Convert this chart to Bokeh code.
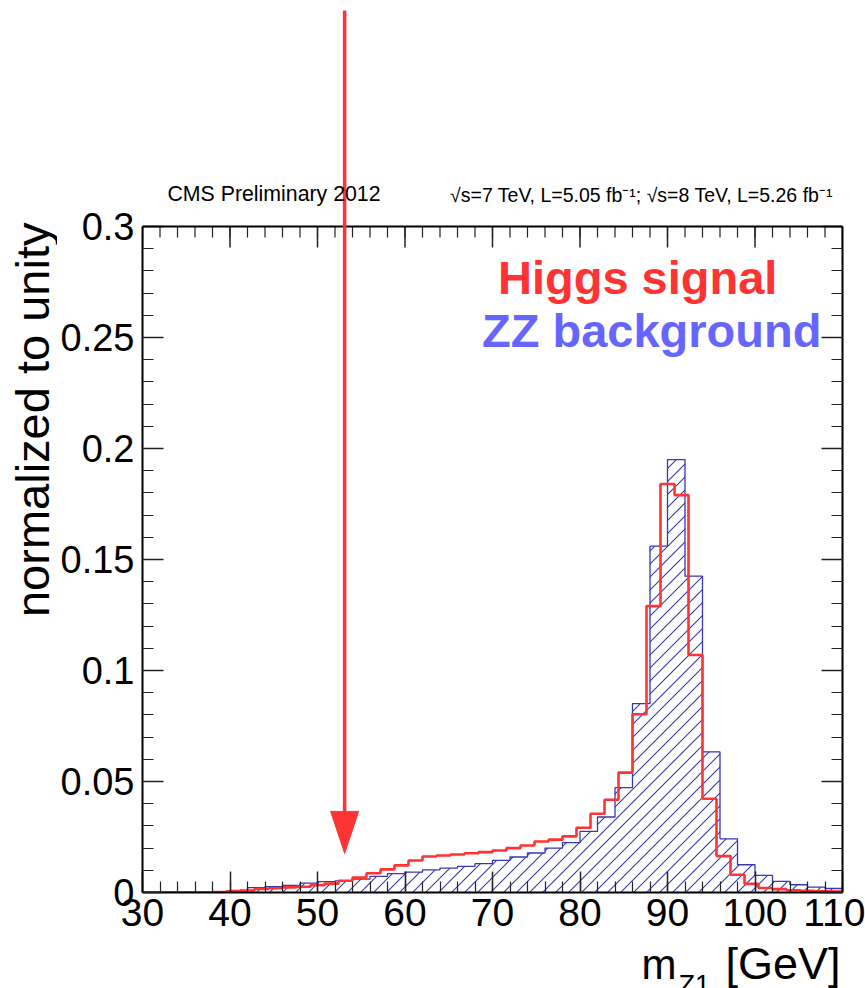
import base64
import math
import numpy as np
from bokeh.plotting import figure
from bokeh.layouts import column, row
from bokeh.models import (Range1d, LinearAxis, FixedTicker, CustomJSTickFormatter,
                          Label, Arrow, Span, ImageURLTexture)
from bokeh.embed import file_html
from bokeh.resources import INLINE

# ---------------- data ----------------
x_min, x_max = 30.0, 110.0
y_max = 0.3

x_ticks = [30, 40, 50, 60, 70, 80, 90, 100, 110]
y_ticks = [0, 0.05, 0.1, 0.15, 0.2, 0.25, 0.3]

# Higgs signal: 50 bins of 1.6 GeV from 30 to 110
signal = [0, 0, 0, 0, 0, 0.0002, 0.0005, 0.0009, 0.0016, 0.0019,
          0.0023, 0.0026, 0.0033, 0.0040, 0.0053, 0.0067, 0.0087, 0.0104, 0.0122, 0.0144,
          0.0162, 0.0167, 0.0171, 0.0177, 0.0182, 0.0189, 0.0200, 0.0212, 0.0230, 0.0238,
          0.0253, 0.0292, 0.0355, 0.0418, 0.0540, 0.0803, 0.1290, 0.1840, 0.1790, 0.1070,
          0.0422, 0.0164, 0.0080, 0.0039, 0.0020, 0.0015, 0.0010, 0.0008, 0.0005, 0.0004]

# ZZ background: 40 bins of 2 GeV from 30 to 110
background = [0, 0, 0, 0, 0.0001, 0.0009, 0.0022, 0.0026, 0.0032, 0.0042,
              0.0049, 0.0052, 0.0060, 0.0073, 0.0085, 0.0092, 0.0102, 0.0110, 0.0118, 0.0130,
              0.0145, 0.0160, 0.0178, 0.0200, 0.0225, 0.0275, 0.0340, 0.0472, 0.0851, 0.1560,
              0.1950, 0.1425, 0.0633, 0.0242, 0.0125, 0.0077, 0.0050, 0.0035, 0.0024, 0.0018]

cut_value = 53.1          # position of the arrow (GeV)
arrow_tip = 0.0176        # where the arrow head ends

signal_label = "Higgs signal"
background_label = "ZZ background"
cms_label = "CMS Preliminary 2012"
lumi_label = "\u221as=7 TeV, L=5.05 fb\u207b\u00b9;  \u221as=8 TeV, L=5.26 fb\u207b\u00b9"
y_title = "normalized to unity"

# ---------------- layout (page pixels) ----------------
W, H = 865, 988
FL, FR, FT, FB = 141, 842, 226, 892   # visible frame edges
LEFT_W = 57                            # width of the strip holding the y title
BOTTOM_Y = 944                         # top of the strip holding the x title
BASE_SHIFT = 0.32                      # bokeh draws "alphabetic" text this many em lower

RED = "#ff3333"
BLUE_LINE = "#3838b0"
BLUE_TEXT = "#6666ff"
FONT = "Liberation Sans"

y_top = y_max * FB / (FB - FT)        # data value at the top of the canvas

def px2x(px):
    return x_min + (px - FL) * (x_max - x_min) / (FR - FL)

def py2y(py):
    return (FB - py) * y_max / (FB - FT)

PX_Y = y_max / (FB - FT)              # data units per pixel (vertical)
PX_X = (x_max - x_min) / (FR - FL)


def step_outline(vals):
    vals = np.asarray(vals, dtype=float)
    edges = np.linspace(x_min, x_max, len(vals) + 1)
    xs = np.repeat(edges, 2)
    ys = np.concatenate([[0.0], np.repeat(vals, 2), [0.0]])
    return xs, ys


def bare_figure(w, h, xr, yr):
    f = figure(width=w, height=h, x_range=xr, y_range=yr, output_backend="svg",
               toolbar_location=None, x_axis_location=None, y_axis_location=None,
               min_border_left=0, min_border_right=0, min_border_top=0, min_border_bottom=0)
    f.outline_line_color = None
    f.xgrid.visible = False
    f.ygrid.visible = False
    f.background_fill_color = "white"
    f.border_fill_color = "white"
    return f


# ---------------- main figure ----------------
p = figure(width=W - LEFT_W, height=BOTTOM_Y, x_range=Range1d(x_min, x_max), y_range=Range1d(0, y_top),
           output_backend="svg", toolbar_location=None,
           x_axis_location=None, y_axis_location=None,
           min_border_left=FL - LEFT_W, min_border_right=W - FR, min_border_top=0,
           min_border_bottom=BOTTOM_Y - FB)
p.xgrid.visible = False
p.ygrid.visible = False
p.background_fill_color = "white"
p.border_fill_color = "white"
p.outline_line_color = None

x_minor = list(np.arange(x_min, x_max + 0.1, 2.0))
y_minor = list(np.round(np.arange(0, y_max + 1e-9, 0.01), 3))

MAJ_IN, MIN_IN = 21, 11


def make_axis(ticker, show_labels, fmt=None, bounds=None, standoff=8, size="38px"):
    ax = LinearAxis(ticker=ticker)
    if fmt is not None:
        ax.formatter = fmt
    if bounds is not None:
        ax.bounds = bounds
    ax.axis_line_color = "black"
    ax.axis_line_width = 2
    ax.major_tick_in = MAJ_IN
    ax.major_tick_out = 0
    ax.minor_tick_in = MIN_IN
    ax.minor_tick_out = 0
    ax.major_tick_line_color = "#222222"
    ax.major_tick_line_width = 1.5
    ax.minor_tick_line_color = "#222222"
    ax.minor_tick_line_width = 1.2
    if show_labels:
        ax.major_label_text_font = FONT
        ax.major_label_text_font_size = size
        ax.major_label_text_color = "black"
        ax.major_label_standoff = standoff
    else:
        ax.major_label_text_font_size = "0px"
        ax.major_label_standoff = 0
    return ax


yfmt = CustomJSTickFormatter(code="return parseFloat(tick.toFixed(3)).toString();")
p.add_layout(make_axis(FixedTicker(ticks=x_ticks, minor_ticks=x_minor), True, standoff=6, size="39px"), "below")
p.add_layout(make_axis(FixedTicker(ticks=y_ticks, minor_ticks=y_minor), True, yfmt, (0, y_max),
                       standoff=8, size="38px"), "left")
p.add_layout(make_axis(FixedTicker(ticks=y_ticks, minor_ticks=y_minor), False, None, (0, y_max)), "right")

# top edge of the frame with mirrored ticks
p.add_layout(Span(location=y_max, dimension="width", line_color="black", line_width=2))
p.segment(x0=x_ticks, y0=[y_max] * len(x_ticks), x1=x_ticks, y1=[y_max - MAJ_IN * PX_Y] * len(x_ticks),
          line_color="#222222", line_width=1.5)
p.segment(x0=x_minor, y0=[y_max] * len(x_minor), x1=x_minor, y1=[y_max - MIN_IN * PX_Y] * len(x_minor),
          line_color="#222222", line_width=1.2)

# ---------------- background histogram (hatched) ----------------
T = 13
tile_svg = (f"<svg xmlns='http://www.w3.org/2000/svg' width='{T}' height='{T}'>"
            f"<path d='M-2,{T+2} L{T+2},-2 M-2,2 L2,-2 M{T-2},{T+2} L{T+2},{T-2}' "
            f"stroke='{BLUE_LINE}' stroke-width='1.1' fill='none'/></svg>")
tile_url = "data:image/svg+xml;base64," + base64.b64encode(tile_svg.encode()).decode()

bx, by = step_outline(background)
p.patch(bx, by, fill_color=None, line_color=None,
        hatch_pattern="diag", hatch_extra={"diag": ImageURLTexture(url=tile_url)})
p.line(bx, by, line_color=BLUE_LINE, line_width=1.3)

# ---------------- signal histogram ----------------
sx, sy = step_outline(signal)
p.line(sx, sy, line_color=RED, line_width=2.6)

# ---------------- arrow ----------------
head_len = 42 * PX_Y
head_half = 14 * PX_X
p.add_layout(Arrow(x_start=cut_value, y_start=py2y(10), x_end=cut_value, y_end=arrow_tip + head_len,
                   end=None, line_color=RED, line_width=3.5))
p.patch([cut_value - head_half, cut_value + head_half, cut_value],
        [arrow_tip + head_len, arrow_tip + head_len, arrow_tip],
        fill_color=RED, line_color=RED, line_width=1)


def add_label(fig, text, x, y, size, color="black", align="left", baseline="alphabetic",
              style="normal", angle=0.0, font=FONT):
    fig.add_layout(Label(x=x, y=y, text=text, text_font=font,
                         text_font_size=f"{size}px", text_color=color, text_align=align,
                         text_baseline=baseline, text_font_style=style, angle=angle))


def base(py, size):
    """page-pixel anchor that puts the alphabetic baseline at py"""
    return py - BASE_SHIFT * size


add_label(p, signal_label, px2x(497), py2y(base(292, 47)), 47, RED, style="bold")
add_label(p, background_label, px2x(481), py2y(base(345, 47)), 47, BLUE_TEXT, style="bold")
add_label(p, cms_label, px2x(166), py2y(base(200, 21.3)), 21.3)
add_label(p, lumi_label, px2x(838), py2y(base(201, 19.5)), 19.5, align="right")

# ---------------- y title strip ----------------
left = bare_figure(LEFT_W, BOTTOM_Y, Range1d(0, LEFT_W), Range1d(BOTTOM_Y, 0))
add_label(left, y_title, 32, 235, 47, align="right", baseline="middle", angle=math.pi / 2)

# ---------------- x title strip ----------------
bottom = bare_figure(W, H - BOTTOM_Y, Range1d(0, W), Range1d(H, BOTTOM_Y))
add_label(bottom, "m", 641, base(977, 42), 42)
add_label(bottom, "Z1", 678, base(993, 27), 27)
add_label(bottom, "[GeV]", 840, base(977, 45), 45, align="right")

layout = column(row(left, p, spacing=0), bottom, spacing=0)
open("out.html", "w").write(file_html(layout, INLINE))
